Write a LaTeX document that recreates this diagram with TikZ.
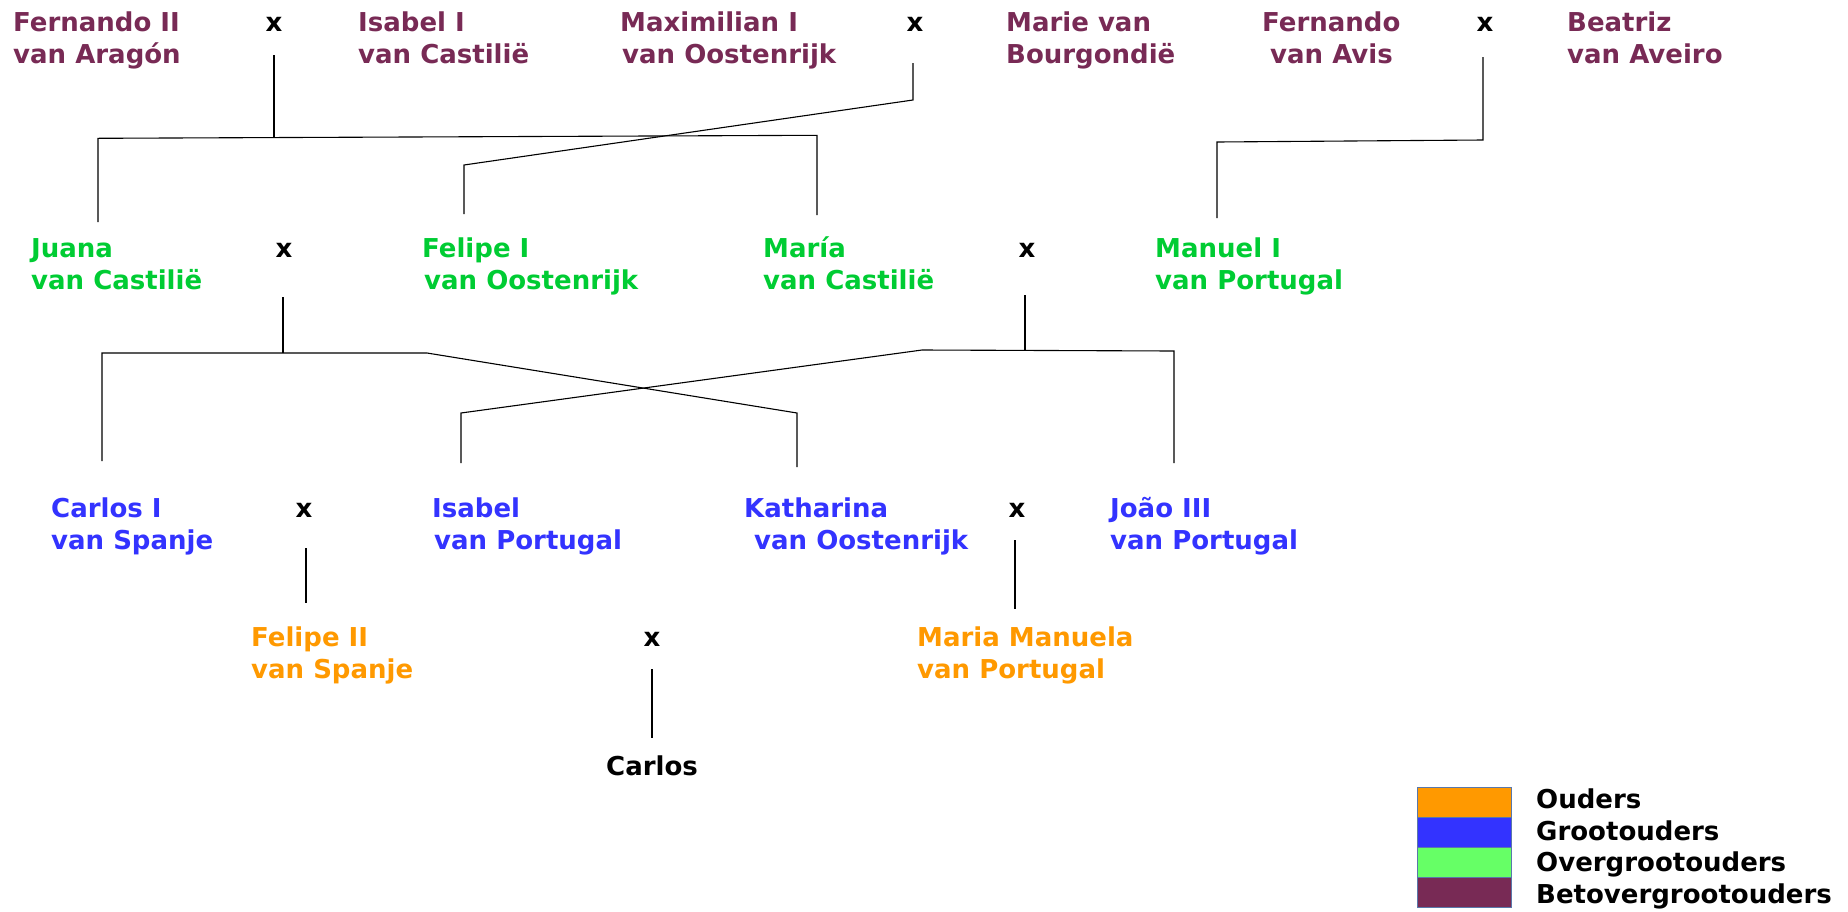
\documentclass[tikz,border=0pt]{standalone}
\usepackage{fontspec}
\setmainfont{DejaVu Sans}
\definecolor{pur}{RGB}{120,42,85}
\definecolor{grn}{RGB}{0,204,51}
\definecolor{lgrn}{RGB}{102,255,102}
\definecolor{blu}{RGB}{51,51,255}
\definecolor{org}{RGB}{255,153,0}
\definecolor{frame}{RGB}{90,120,170}
\begin{document}
\begin{tikzpicture}[x=1pt,y=-1pt,
  person/.style={anchor=base west, inner sep=0pt, align=left, font=\fontsize{26}{32}\selectfont\bfseries},
  gfour/.style={person, text=pur},
  gthree/.style={person, text=grn},
  gtwo/.style={person, text=blu},
  gone/.style={person, text=org},
  marr/.style={anchor=base, inner sep=0pt, font=\fontsize{26}{32}\selectfont\bfseries},
  link/.style={draw=black, line width=1.1pt},
  keybox/.style={draw=frame, line width=0.8pt, anchor=north west, minimum width=94pt, minimum height=30pt, inner sep=0pt},
  keytext/.style={anchor=base west, inner sep=0pt, font=\fontsize{26}{32}\selectfont\bfseries}
]
\useasboundingbox (0,0) rectangle (1848,911);

% generation 4 (anchor = baseline of last line)
\node[gfour] (f2) at (13,63) {Fernando II\\van Aragón};
\node[marr] (x1) at (274,31) {x};
\node[gfour] (i1) at (358,63) {Isabel I\\van Castilië};
\node[gfour] (m1) at (620,63) {Maximilian I\\\hspace*{2pt}van Oostenrijk};
\node[marr] (x2) at (915,31) {x};
\node[gfour] (mb) at (1006,63) {Marie van\\Bourgondië};
\node[gfour] (fa) at (1262,63) {Fernando\\\hspace*{8pt}van Avis};
\node[marr] (x3) at (1485,31) {x};
\node[gfour] (ba) at (1567,63) {Beatriz\\van Aveiro};

% generation 3
\node[gthree] (ju) at (31,289) {Juana\\van Castilië};
\node[marr] (x4) at (284,257) {x};
\node[gthree] (fe1) at (422,289) {Felipe I\\\hspace*{2pt}van Oostenrijk};
\node[gthree] (ma) at (763,289) {María\\van Castilië};
\node[marr] (x5) at (1027,257) {x};
\node[gthree] (mn) at (1155,289) {Manuel I\\van Portugal};

% generation 2
\node[gtwo] (c1) at (51,549) {Carlos I\\van Spanje};
\node[marr] (x6) at (304,517) {x};
\node[gtwo] (is) at (432,549) {Isabel\\\hspace*{2pt}van Portugal};
\node[gtwo] (ka) at (744,549) {Katharina\\\hspace*{10pt}van Oostenrijk};
\node[marr] (x7) at (1017,517) {x};
\node[gtwo] (jo) at (1110,549) {João III\\van Portugal};

% generation 1
\node[gone] (fe2) at (251,678) {Felipe II\\van Spanje};
\node[marr] (x8) at (652,646) {x};
\node[gone] (mm) at (917,678) {Maria Manuela\\van Portugal};

% child
\node[person, text=black] (ca) at (606,775) {Carlos};

% connector points
\coordinate (a1) at (274,55);  \coordinate (a2) at (274,137.5);
\coordinate (a3) at (98,222);  \coordinate (a4) at (98,138.3);
\coordinate (a5) at (817,135.3); \coordinate (a6) at (817,215);
\coordinate (b1) at (913,63);  \coordinate (b2) at (913,100);
\coordinate (b3) at (464,165); \coordinate (b4) at (464,214);
\coordinate (c1a) at (1483,57); \coordinate (c2) at (1483,140);
\coordinate (c3) at (1217,142); \coordinate (c4) at (1217,218);
\coordinate (d1) at (283,297); \coordinate (d2) at (283,353);
\coordinate (d3) at (102,461); \coordinate (d4) at (102,353);
\coordinate (d5) at (427,353); \coordinate (d6) at (797,413);
\coordinate (d7) at (797,467);
\coordinate (e1) at (1025,295); \coordinate (e2) at (1025,351);
\coordinate (e3) at (461,463); \coordinate (e4) at (461,413);
\coordinate (e5) at (922,350); \coordinate (e6) at (1174,351);
\coordinate (e7) at (1174,463);
\coordinate (g1) at (306,548); \coordinate (g2) at (306,603);
\coordinate (h1) at (1015,540); \coordinate (h2) at (1015,609);
\coordinate (k1) at (652,669); \coordinate (k2) at (652,738);

\draw[link] (a1) -- (a2);
\draw[link] (a3) -- (a4) -- (a5) -- (a6);
\draw[link] (b1) -- (b2) -- (b3) -- (b4);
\draw[link] (c1a) -- (c2) -- (c3) -- (c4);
\draw[link] (d1) -- (d2);
\draw[link] (d3) -- (d4) -- (d5) -- (d6) -- (d7);
\draw[link] (e1) -- (e2);
\draw[link] (e3) -- (e4) -- (e5) -- (e6) -- (e7);
\draw[link] (g1) -- (g2);
\draw[link] (h1) -- (h2);
\draw[link] (k1) -- (k2);

% legend
\node[keybox, fill=org] (k-o) at (1417,787) {};
\node[keybox, fill=blu] (k-g) at (1417,817) {};
\node[keybox, fill=lgrn] (k-og) at (1417,847) {};
\node[keybox, fill=pur] (k-bog) at (1417,877) {};
\node[keytext] (t-o) at (1536,808) {Ouders};
\node[keytext] (t-g) at (1536,840) {Grootouders};
\node[keytext] (t-og) at (1536,871) {Overgrootouders};
\node[keytext] (t-bog) at (1536,903) {Betovergrootouders};
\end{tikzpicture}
\end{document}
